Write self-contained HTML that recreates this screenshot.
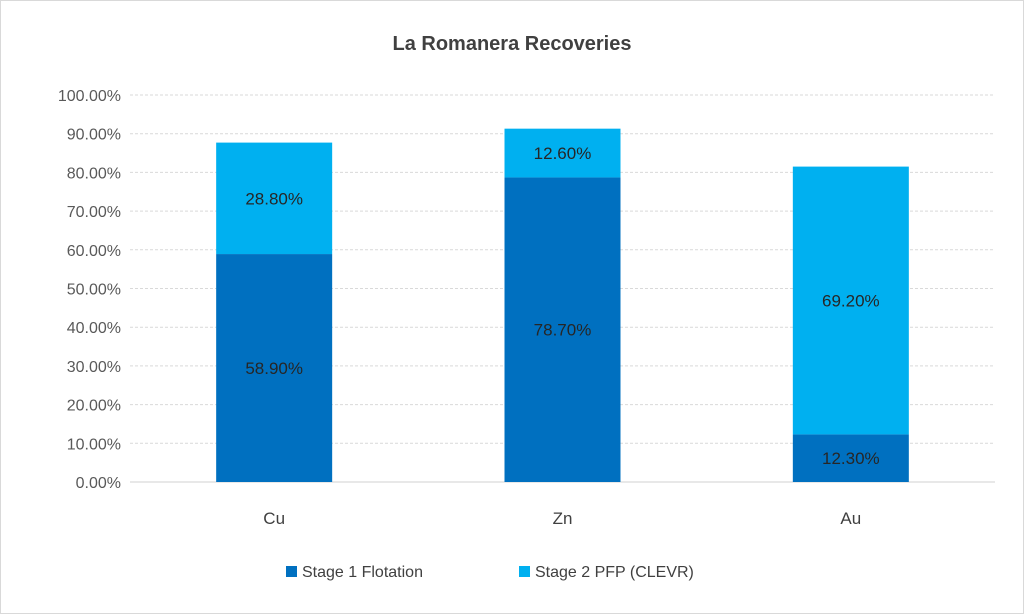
<!DOCTYPE html>
<html><head><meta charset="utf-8"><style>
html,body{margin:0;padding:0;background:#fff;}
svg{display:block;font-family:"Liberation Sans",sans-serif;}
</style></head><body>
<svg id="chart" width="1024" height="614" viewBox="0 0 1024 614">
<rect x="0.5" y="0.5" width="1023" height="613" fill="#fff" stroke="#d9d9d9"/>
<text x="512" y="50" text-anchor="middle" font-size="20" font-weight="bold" fill="#404040">La Romanera Recoveries</text>
<g id="grid"></g><g id="bars"></g><g id="labels"></g>
<g>
<rect x="286" y="566" width="11" height="11" fill="#0070C0"/>
<text x="302" y="577" font-size="16" fill="#404040">Stage 1 Flotation</text>
<rect x="519" y="566" width="11" height="11" fill="#00B0F0"/>
<text x="535" y="577" font-size="16" fill="#404040">Stage 2 PFP (CLEVR)</text>
</g>
</svg>
<script>
const categories = ["Cu","Zn","Au"];
const stage1 = [58.9, 78.7, 12.3];
const stage2 = [28.8, 12.6, 69.2];
const yTicks = [0,10,20,30,40,50,60,70,80,90,100];
const ns="http://www.w3.org/2000/svg";
const x0=130,x1=995,yBase=482,yTop=95;
const y=v=>yBase-(v/100)*(yBase-yTop);
const band=(x1-x0)/categories.length;
const xc=i=>x0+band*(i+0.5);
const bw=116;
function mk(t,a,p){const e=document.createElementNS(ns,t);for(const k in a)e.setAttribute(k,a[k]);p.appendChild(e);return e;}
const grid=document.getElementById('grid'),bars=document.getElementById('bars'),labels=document.getElementById('labels');
yTicks.forEach(t=>{
  const l=mk('line',{x1:x0,x2:x1,y1:y(t),y2:y(t),stroke:t===0?'#d0d0d0':'#d9d9d9','stroke-width':1,'stroke-dasharray':t===0?'':'3,2'},grid);
  
  
  const tx=mk('text',{x:x0-9,y:y(t)+6,'text-anchor':'end','font-size':16,fill:'#595959'},grid);
  tx.textContent=t.toFixed(2)+'%';
  
  
});
categories.forEach((c,i)=>{
  const a=stage1[i],b=stage2[i];
  const r1=mk('rect',{x:xc(i)-bw/2,y:y(a),width:bw,height:yBase-y(a),fill:'#0070C0'},bars);
  
  
  const r2=mk('rect',{x:xc(i)-bw/2,y:y(a+b),width:bw,height:y(a)-y(a+b),fill:'#00B0F0'},bars);
  
  
  const l1=mk('text',{x:xc(i),y:(y(a)+yBase)/2+6,'text-anchor':'middle','font-size':17,fill:'#262626'},labels);
  l1.textContent=a.toFixed(2)+'%';
  
  
  const l2=mk('text',{x:xc(i),y:(y(a)+y(a+b))/2+6,'text-anchor':'middle','font-size':17,fill:'#262626'},labels);
  l2.textContent=b.toFixed(2)+'%';
  
  
  const cx=mk('text',{x:xc(i),y:524,'text-anchor':'middle','font-size':17,fill:'#404040'},labels);
  cx.textContent=c;
  
  
});
</script>
</body></html>
